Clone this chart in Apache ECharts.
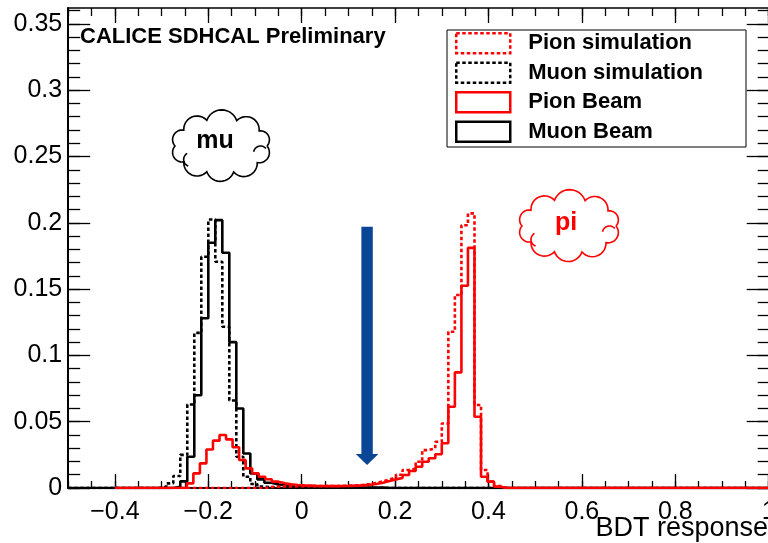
<!DOCTYPE html>
<html>
<head>
<meta charset="utf-8">
<script src="https://cdn.jsdelivr.net/npm/echarts@6/dist/echarts.min.js"></script>
<style>
  html, body { margin: 0; padding: 0; background: #fff; }
  #chart { width: 768px; height: 543px; }
</style>
</head>
<body>
<div id="chart"></div>
<script>
  var fontFamily = "'Liberation Sans', Arial, Helvetica, sans-serif"

  // binning of the two sets of histograms
  var muonBins = { lo: -0.5, width: 0.015, n: 100 }
  var pionBins = { lo: -0.4, width: 0.014, n: 100 }

  // bin contents, starting at bin index xxxFirst, zero elsewhere
  var muonSimFirst = 13  // Muon simulation (dotted black)
  var muonSim = [0.001, 0.0035, 0.009, 0.025, 0.063, 0.117, 0.1744, 0.2025, 0.1706, 0.1216,
    0.066, 0.0236, 0.0085, 0.003, 0.001, 0.0005]

  var muonBeamFirst = 15  // Muon Beam (solid black)
  var muonBeam = [0.001, 0.005, 0.0236, 0.070, 0.128, 0.185, 0.202, 0.1774, 0.110, 0.060,
    0.026, 0.011, 0.0065, 0.004, 0.0027, 0.002, 0.0015, 0.0012, 0.001, 0.001,
    0.0008, 0.0008, 0.0006, 0.0006, 0.0005, 0.0005, 0.0004, 0.0004, 0.0003, 0.0003]

  var pionSimFirst = 23  // Pion simulation (dotted red)
  var pionSim = [0.0008, 0.001, 0.0012, 0.0012, 0.0013, 0.0013, 0.0014, 0.0014, 0.0014, 0.0015,
    0.0015, 0.0016, 0.0018, 0.002, 0.0024, 0.003, 0.0038, 0.005, 0.0065, 0.008,
    0.010, 0.0136, 0.0145, 0.0198, 0.0286, 0.0299, 0.0349, 0.0487, 0.1178, 0.1455,
    0.1982, 0.2071, 0.0626, 0.0136, 0.0048, 0.0015]

  var pionBeamFirst = 11  // Pion Beam (solid red)
  var pionBeam = [0.0035, 0.011, 0.0186, 0.029, 0.0357, 0.040, 0.0367, 0.0307, 0.0211, 0.0148,
    0.011, 0.0085, 0.0066, 0.0048, 0.0035, 0.0028, 0.0023, 0.002, 0.0018, 0.0015,
    0.0015, 0.0014, 0.0014, 0.0015, 0.0016, 0.0018, 0.002, 0.0025, 0.003, 0.004,
    0.0052, 0.0065, 0.0075, 0.0098, 0.0128, 0.016, 0.0198, 0.0224, 0.0254, 0.0337,
    0.0613, 0.0872, 0.1525, 0.1811, 0.0537, 0.0085, 0.0048, 0.001]

  // axes
  var xMin = -0.5, xMax = 1.0, yMin = 0, yMax = 0.362
  var xMajorTicks = [-0.4, -0.2, 0, 0.2, 0.4, 0.6, 0.8, 1.0]
  var xTickLabels = ['\u22120.4', '\u22120.2', '0', '0.2', '0.4', '0.6', '0.8', '1']
  var yMajorTicks = [0, 0.05, 0.1, 0.15, 0.2, 0.25, 0.3, 0.35]
  var yTickLabels = ['0', '0.05', '0.1', '0.15', '0.2', '0.25', '0.3', '0.35']
  var xMinorTicks = []
  for (var i = 0; i <= 30; i++) xMinorTicks.push(+(xMin + i * 0.05).toFixed(3))
  var yMinorTicks = []
  for (var j = 0; j <= 36; j++) yMinorTicks.push(+(j * 0.01).toFixed(3))

  // BDT cut arrow
  var cutValue = 0.14
  var arrowTop = 0.197
  var arrowTip = 0.0173

  function stepPoints(bins, first, vals) {
    var pts = []
    for (var k = 0; k < bins.n; k++) {
      var idx = k - first
      var v = (idx >= 0 && idx < vals.length) ? vals[idx] : 0
      pts.push([bins.lo + k * bins.width, v])
    }
    pts.push([bins.lo + bins.n * bins.width, 0])
    return pts
  }

  function labelFor(values, labels) {
    return function (v) {
      for (var i = 0; i < values.length; i++) {
        if (Math.abs(values[i] - v) < 1e-9) return labels[i]
      }
      return ''
    }
  }

  function makeXAxis(position, ticks, tickLen, withLine, withLabels) {
    return {
      type: 'value', position: position, min: xMin, max: xMax,
      axisLine: { show: withLine, onZero: false, lineStyle: { color: '#000', width: position === 'bottom' ? 2 : 1.5 } },
      axisTick: { show: true, inside: true, length: tickLen, customValues: ticks, lineStyle: { color: '#000', width: 1.3 } },
      axisLabel: withLabels ? {
        show: true, customValues: xMajorTicks, formatter: labelFor(xMajorTicks, xTickLabels),
        margin: 12, fontSize: 25, color: '#000', fontFamily: fontFamily
      } : { show: false },
      splitLine: { show: false }
    }
  }

  function makeYAxis(position, ticks, tickLen, withLine, withLabels) {
    return {
      type: 'value', position: position, min: yMin, max: yMax,
      axisLine: { show: withLine, onZero: false, lineStyle: { color: '#000', width: 2 } },
      axisTick: { show: true, inside: true, length: tickLen, customValues: ticks, lineStyle: { color: '#000', width: 1.3 } },
      axisLabel: withLabels ? {
        show: true, customValues: yMajorTicks, formatter: labelFor(yMajorTicks, yTickLabels),
        margin: 6, fontSize: 25, color: '#000', fontFamily: fontFamily
      } : { show: false },
      splitLine: { show: false }
    }
  }

  function histSeries(name, bins, first, vals, color, dotted) {
    return {
      name: name,
      type: 'line',
      step: 'end',
      data: stepPoints(bins, first, vals),
      symbol: 'none',
      showSymbol: false,
      silent: true,
      lineStyle: { color: color, width: 2.6, type: dotted ? [3.5, 2.5] : 'solid' },
      itemStyle: { color: color }
    }
  }

  function legendItem(name, color, dotted) {
    return {
      name: name,
      itemStyle: { color: 'transparent', borderColor: color, borderWidth: 2.5, borderType: dotted ? [3.5, 2.5] : 'solid' }
    }
  }

  // cloud outline as a polyline of outward bumps round an ellipse
  function cloudOutline(cx, cy, rx, ry) {
    var angles = [0, 38, 74, 108, 144, 180, 216, 252, 290, 326]
    var pts = []
    for (var i = 0; i < angles.length; i++) {
      var a1 = angles[i] * Math.PI / 180
      var a2 = (i === angles.length - 1 ? 360 : angles[i + 1]) * Math.PI / 180
      var p = [cx + rx * Math.cos(a1), cy + ry * Math.sin(a1)]
      var q = [cx + rx * Math.cos(a2), cy + ry * Math.sin(a2)]
      var mx = (p[0] + q[0]) / 2, my = (p[1] + q[1]) / 2
      var c = Math.hypot(q[0] - p[0], q[1] - p[1])
      var nx = (q[1] - p[1]) / c, ny = -(q[0] - p[0]) / c
      if (nx * (mx - cx) + ny * (my - cy) < 0) { nx = -nx; ny = -ny }
      var r = c * 0.53
      var d = Math.sqrt(r * r - c * c / 4)
      var ox = mx - nx * d, oy = my - ny * d
      var s = Math.atan2(p[1] - oy, p[0] - ox)
      var e = Math.atan2(q[1] - oy, q[0] - ox)
      var delta = e - s
      while (delta > Math.PI) delta -= 2 * Math.PI
      while (delta < -Math.PI) delta += 2 * Math.PI
      for (var t = 0; t < 14; t++) {
        var a = s + delta * t / 14
        pts.push([ox + r * Math.cos(a), oy + r * Math.sin(a)])
      }
    }
    pts.push(pts[0])
    return pts
  }

  function arcPoints(cx, cy, r, a0, a1) {
    var pts = []
    for (var t = 0; t <= 12; t++) {
      var a = (a0 + (a1 - a0) * t / 12) * Math.PI / 180
      pts.push([cx + r * Math.cos(a), cy + r * Math.sin(a)])
    }
    return pts
  }

  function cloudGraphics(cx, cy, rx, ry, color, label, tx, ty) {
    var stroke = { fill: 'none', stroke: color, lineWidth: 1.6 }
    return [
      { type: 'polyline', shape: { points: cloudOutline(cx, cy, rx, ry) }, style: stroke, silent: true },
      { type: 'polyline', shape: { points: arcPoints(cx + rx * 0.86, cy + 7, 7, 190, 320) }, style: stroke, silent: true },
      { type: 'polyline', shape: { points: arcPoints(cx - rx * 0.66, cy + ry * 0.5, 7, 110, 240) }, style: stroke, silent: true },
      {
        type: 'text', silent: true,
        style: { text: label, x: tx, y: ty, align: 'center', verticalAlign: 'middle',
          font: 'bold 25px ' + fontFamily, fill: color }
      }
    ]
  }

  var myChart = echarts.init(document.getElementById('chart'), null, { renderer: 'canvas' })

  var option = {
    animation: false,
    backgroundColor: '#fff',
    title: {
      text: 'CALICE SDHCAL Preliminary',
      left: 80, top: 26, padding: 0,
      textStyle: { fontSize: 22, fontWeight: 'bold', color: '#000', fontFamily: fontFamily }
    },
    legend: {
      orient: 'vertical',
      left: 447, top: 30,
      padding: [2, 43, 4, 8],
      borderColor: '#000', borderWidth: 1,
      itemWidth: 54, itemHeight: 20, itemGap: 7,
      icon: 'rect',
      selectedMode: false,
      textStyle: { fontSize: 22, fontWeight: 'bold', color: '#000', fontFamily: fontFamily, lineHeight: 20, padding: [0, 0, 0, 13] },
      data: [
        legendItem('Pion simulation', '#ff0000', true),
        legendItem('Muon simulation', '#000000', true),
        legendItem('Pion Beam', '#ff0000', false),
        legendItem('Muon Beam', '#000000', false)
      ]
    },
    grid: { left: 68.2, top: 8, width: 700.5, height: 480, containLabel: false, outerBoundsMode: 'none' },
    xAxis: [
      makeXAxis('bottom', xMajorTicks, 14, true, true),
      makeXAxis('bottom', xMinorTicks, 7, false, false),
      makeXAxis('top', xMajorTicks, 15, true, false),
      makeXAxis('top', xMinorTicks, 8, false, false)
    ],
    yAxis: [
      makeYAxis('left', yMajorTicks, 22, true, true),
      makeYAxis('left', yMinorTicks, 12, false, false),
      makeYAxis('right', yMajorTicks, 22, true, false),
      makeYAxis('right', yMinorTicks, 11, false, false)
    ],
    series: [
      histSeries('Muon simulation', muonBins, muonSimFirst, muonSim, '#000000', true),
      histSeries('Muon Beam', muonBins, muonBeamFirst, muonBeam, '#000000', false),
      histSeries('Pion simulation', pionBins, pionSimFirst, pionSim, '#ff0000', true),
      histSeries('Pion Beam', pionBins, pionBeamFirst, pionBeam, '#ff0000', false)
    ]
  }
  myChart.setOption(option)

  // annotations: arrow at the cut, clouds, axis title
  var pTop = myChart.convertToPixel({ seriesIndex: 0 }, [cutValue, arrowTop])
  var pTip = myChart.convertToPixel({ seriesIndex: 0 }, [cutValue, arrowTip])
  var ax = pTop[0], shaftHalf = 5.7, headHalf = 11.3, headLen = 11
  var graphics = [
    {
      type: 'polygon', silent: true,
      shape: { points: [
        [ax - shaftHalf, pTop[1]], [ax + shaftHalf, pTop[1]], [ax + shaftHalf, pTip[1] - headLen],
        [ax + headHalf, pTip[1] - headLen], [ax, pTip[1]], [ax - headHalf, pTip[1] - headLen],
        [ax - shaftHalf, pTip[1] - headLen]
      ] },
      style: { fill: '#0b4596' }
    },
    {
      type: 'text', silent: true,
      style: { text: 'BDT response', x: 768, y: 529, align: 'right', verticalAlign: 'middle',
        font: '27px ' + fontFamily, fill: '#000' }
    }
  ]
  graphics = graphics.concat(cloudGraphics(221, 146, 46, 27, '#000', 'mu', 215, 141))
  graphics = graphics.concat(cloudGraphics(569, 226, 47, 27, '#ff0000', 'pi', 566, 223.5))
  myChart.setOption({ graphic: graphics })
</script>
</body>
</html>
